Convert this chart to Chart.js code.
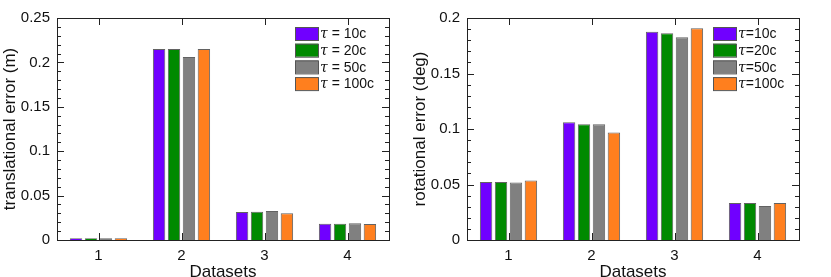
<!DOCTYPE html>
<html>
<head>
<meta charset="utf-8">
<script src="https://cdn.jsdelivr.net/npm/chart.js@4/dist/chart.umd.min.js"></script>
<style>
  html, body { margin: 0; padding: 0; background: #fff; }
  #wrap { position: relative; width: 831px; height: 277px; }
  .box { position: absolute; top: 0; height: 277px; }
</style>
</head>
<body>
<div id="wrap">
  <div class="box" style="left:0;width:410px"><canvas id="left"></canvas></div>
  <div class="box" style="left:410px;width:421px"><canvas id="right"></canvas></div>
</div>
<script>
var categories = ['1', '2', '3', '4'];

var seriesNamesLeft = ['\u03c4 = 10c', '\u03c4 = 20c', '\u03c4 = 50c', '\u03c4 = 100c'];
var seriesNamesRight = ['\u03c4=10c', '\u03c4=20c', '\u03c4=50c', '\u03c4=100c'];

// translational error (m)
var trans10 = [0.002, 0.215, 0.0315, 0.0184];
var trans20 = [0.002, 0.215, 0.0318, 0.0184];
var trans50 = [0.002, 0.206, 0.0326, 0.019];
var trans100 = [0.002, 0.215, 0.030, 0.018];

// rotational error (deg)
var rot10 = [0.0522, 0.1061, 0.1877, 0.0333];
var rot20 = [0.0522, 0.1043, 0.1862, 0.0333];
var rot50 = [0.0519, 0.1043, 0.1826, 0.0306];
var rot100 = [0.0537, 0.0969, 0.1907, 0.0333];

var leftTickLabels = ['0', '0.05', '0.1', '0.15', '0.2', '0.25'];
var rightTickLabels = ['0', '0.05', '0.1', '0.15', '0.2'];

var colors = ['#7000ff', '#008a00', '#808080', '#ff7f1e'];
var FONT = "'Liberation Sans', Arial, sans-serif";

// gnuplot style frame, inward ticks and inside legend
var framePlugin = {
    id: 'frame',
    afterDatasetsDraw(chart, args, opts) {
        var ctx = chart.ctx, a = chart.chartArea;
        var x = chart.scales.x, y = chart.scales.y;
        ctx.save();
        ctx.strokeStyle = '#222';
        ctx.lineWidth = 1;
        ctx.strokeRect(Math.round(a.left) + 0.5, Math.round(a.top) + 0.5,
            Math.round(a.right - a.left), Math.round(a.bottom - a.top));
        ctx.beginPath();
        // y ticks: major + minor
        for (var v = 0; v <= y.max + 1e-9; v += opts.minor) {
            var py = Math.round(y.getPixelForValue(v)) + 0.5;
            var major = Math.abs(v / opts.major - Math.round(v / opts.major)) < 1e-6;
            var len = major ? 7 : 4;
            ctx.moveTo(a.left, py); ctx.lineTo(a.left + len, py);
            ctx.moveTo(a.right, py); ctx.lineTo(a.right - len, py);
        }
        // x ticks at category centres
        for (var i = 0; i < chart.data.labels.length; i++) {
            var px = Math.round(x.getPixelForValue(i)) + 0.5;
            ctx.moveTo(px, a.bottom); ctx.lineTo(px, a.bottom - 7);
            ctx.moveTo(px, a.top); ctx.lineTo(px, a.top + 7);
        }
        ctx.stroke();

        // legend
        ctx.textBaseline = 'middle';
        ctx.textAlign = 'left';
        chart.data.datasets.forEach(function (ds, k) {
            var lx = a.right - opts.legendRight;
            var ly = a.top + 9 + k * 16.7;
            ctx.fillStyle = ds.backgroundColor;
            ctx.fillRect(lx, ly, 23, 13);
            ctx.strokeStyle = '#555';
            ctx.strokeRect(lx + 0.5, ly + 0.5, 23, 13);
            ctx.fillStyle = '#111';
            var tx = lx + 25;
            ctx.font = 'italic 14px "DejaVu Serif", serif';
            ctx.fillText(ds.label.charAt(0), tx, ly + 7.5);
            tx += ctx.measureText(ds.label.charAt(0)).width;
            ctx.font = '14px ' + FONT;
            ctx.fillText(ds.label.slice(1), tx, ly + 7.5);
        });
        ctx.restore();
    }
};

function makeChart(id, names, series, yTitle, yMax, tickLabels, legendRight, rightPad) {
    var datasets = series.map(function (vals, k) {
        return {
            label: names[k],
            data: vals,
            backgroundColor: colors[k],
            borderColor: 'rgba(70,70,70,0.85)',
            borderWidth: 1,
            categoryPercentage: 0.72,
            barPercentage: 0.83
        };
    });
    return new Chart(document.getElementById(id).getContext('2d'), {
        type: 'bar',
        data: { labels: categories, datasets: datasets },
        plugins: [framePlugin],
        options: {
            responsive: true,
            maintainAspectRatio: false,
            animation: false,
            layout: { padding: { top: 18, right: rightPad, left: 0, bottom: 0 } },
            plugins: {
                legend: { display: false },
                tooltip: { enabled: false },
                frame: { major: 0.05, minor: 0.01, legendRight: legendRight }
            },
            scales: {
                x: {
                    grid: { display: false, drawTicks: false },
                    border: { display: false },
                    ticks: { color: '#111', padding: 7, font: { family: FONT, size: 15 } },
                    title: {
                        display: true, text: 'Datasets', color: '#111',
                        font: { family: FONT, size: 17, lineHeight: 1 },
                        padding: { top: 0, bottom: -4 }
                    },
                    afterFit: function (s) { s.height = 37; }
                },
                y: {
                    min: 0, max: yMax,
                    grid: { display: false, drawTicks: false },
                    border: { display: false },
                    ticks: {
                        stepSize: 0.05, color: '#111', padding: 7,
                        font: { family: FONT, size: 15 },
                        callback: function (v, i) { return tickLabels[i]; }
                    },
                    title: {
                        display: true, text: yTitle, color: '#111',
                        font: { family: FONT, size: 17, lineHeight: 1 },
                        padding: { top: 2, bottom: 0 }
                    },
                    afterFit: function (s) { s.width = 57; }
                }
            }
        }
    });
}

makeChart('left', seriesNamesLeft, [trans10, trans20, trans50, trans100],
    'translational error (m)', 0.25, leftTickLabels, 94, 21);
makeChart('right', seriesNamesRight, [rot10, rot20, rot50, rot100],
    'rotational error (deg)', 0.2, rightTickLabels, 86, 32);
</script>
</body>
</html>
